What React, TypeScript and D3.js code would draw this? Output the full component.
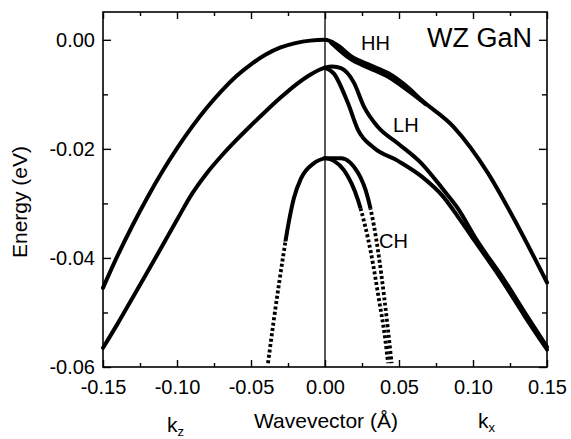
import React, { useEffect, useRef } from "react";
import * as d3 from "d3";

const xTicks = [-0.15, -0.1, -0.05, 0, 0.05, 0.1, 0.15];
const xMinorTicks = [-0.125, -0.075, -0.025, 0.025, 0.075, 0.125];
const yTicks = [0, -0.02, -0.04, -0.06];
const yMinorTicks = [-0.01, -0.03, -0.05];

// [k, E] pairs
const hh = [
  [-0.15, -0.0455], [-0.14, -0.0395], [-0.13, -0.034], [-0.12, -0.0289],
  [-0.11, -0.0242], [-0.1, -0.0199], [-0.09, -0.016], [-0.08, -0.0125],
  [-0.07, -0.0094], [-0.06, -0.0067], [-0.05, -0.0045], [-0.04, -0.0027],
  [-0.03, -0.0014], [-0.02, -0.0006], [-0.01, -0.00015], [0, 0],
  [0.008, -0.0009], [0.0176, -0.003], [0.03, -0.0046], [0.0426, -0.0061],
  [0.055, -0.0085], [0.065, -0.011], [0.087, -0.016], [0.11, -0.0244],
  [0.128, -0.033], [0.15, -0.0445],
];
const hhSplit = [
  [0.004, -0.0005], [0.0176, -0.0036], [0.03, -0.0052], [0.0426, -0.0068],
  [0.055, -0.0091], [0.068, -0.0118],
];
const lh = [
  [-0.15, -0.0565], [-0.14, -0.052], [-0.13, -0.0473], [-0.12, -0.0426],
  [-0.11, -0.0378], [-0.1, -0.033], [-0.09, -0.0283], [-0.08, -0.0245],
  [-0.07, -0.0213], [-0.06, -0.0184], [-0.05, -0.0157], [-0.04, -0.0131],
  [-0.03, -0.0106], [-0.02, -0.0083], [-0.01, -0.0064], [0, -0.0051],
  [0.005, -0.0049], [0.0108, -0.0052], [0.0196, -0.0079], [0.0264, -0.0123],
  [0.0358, -0.016], [0.0493, -0.019], [0.065, -0.0226], [0.08, -0.0275],
  [0.09, -0.031], [0.102, -0.0365], [0.121, -0.044], [0.135, -0.05], [0.15, -0.0563],
];
const lhSplit = [
  [0, -0.0051], [0.006, -0.0062], [0.0155, -0.0116], [0.0223, -0.0165],
  [0.033, -0.0198], [0.0493, -0.0222], [0.065, -0.025], [0.08, -0.0288],
  [0.09, -0.0325], [0.102, -0.0372], [0.121, -0.0447], [0.135, -0.0507],
  [0.15, -0.0568],
];
const chLeft = [
  [-0.0385, -0.0593], [-0.0365, -0.0552], [-0.0345, -0.0512], [-0.031, -0.0446],
  [-0.0284, -0.0399], [-0.025, -0.0342], [-0.021, -0.029], [-0.0162, -0.0254],
  [-0.0074, -0.0226], [0, -0.0217],
];
const chOuter = [
  [0, -0.0217], [0.0108, -0.0217], [0.0223, -0.0244], [0.029, -0.029],
  [0.033, -0.034], [0.036, -0.039], [0.04, -0.0472], [0.0425, -0.053], [0.045, -0.0593],
];
const chInner = [
  [0, -0.0217], [0.006, -0.0222], [0.0128, -0.0239], [0.0223, -0.0294],
  [0.027, -0.034], [0.031, -0.039], [0.0365, -0.0477], [0.0405, -0.0545], [0.0426, -0.0593],
];
// energy below which the CH branches are drawn dotted
const chDotLeft = -0.037;
const chDotRight = -0.031;

const W = 571;
const H = 439;
const margin = { top: 12, right: 24, bottom: 72, left: 103 };
const font = "'Liberation Sans', Arial, sans-serif";

function App() {
  const ref = useRef<SVGGElement>(null);
  const width = W - margin.left - margin.right;
  const height = H - margin.top - margin.bottom;

  useEffect(() => {
    const g = d3.select(ref.current);
    g.selectAll("*").remove();

    const x = d3.scaleLinear().domain([-0.15, 0.15]).range([0, width]);
    const y = d3.scaleLinear().domain([-0.06, 0.0051]).range([height, 0]);
    const fmt = (d: any) => d3.format(".2f")(d).replace("−", "-");

    const styleAxis = (sel: any) => {
      sel.select(".domain").remove();
      sel.selectAll("line").attr("stroke", "#000").attr("stroke-width", 1.4);
      sel.selectAll("text").attr("font-family", font).attr("font-size", 20).attr("fill", "#000");
    };

    // major + minor ticks on all four sides, pointing inward
    g.append("g").attr("transform", `translate(0,${height})`)
      .call(d3.axisBottom(x).tickValues(xTicks).tickFormat(fmt).tickSize(-7).tickPadding(13))
      .call(styleAxis);
    g.append("g").attr("transform", `translate(0,${height})`)
      .call(d3.axisBottom(x).tickValues(xMinorTicks).tickFormat(() => "").tickSize(-4))
      .call(styleAxis);
    g.append("g")
      .call(d3.axisTop(x).tickValues(xTicks).tickFormat(() => "").tickSize(-7))
      .call(styleAxis);
    g.append("g")
      .call(d3.axisTop(x).tickValues(xMinorTicks).tickFormat(() => "").tickSize(-4))
      .call(styleAxis);
    g.append("g")
      .call(d3.axisLeft(y).tickValues(yTicks).tickFormat(fmt).tickSize(-8).tickPadding(8))
      .call(styleAxis);
    g.append("g")
      .call(d3.axisLeft(y).tickValues(yMinorTicks).tickFormat(() => "").tickSize(-5))
      .call(styleAxis);
    g.append("g").attr("transform", `translate(${width},0)`)
      .call(d3.axisRight(y).tickValues(yTicks).tickFormat(() => "").tickSize(-8))
      .call(styleAxis);
    g.append("g").attr("transform", `translate(${width},0)`)
      .call(d3.axisRight(y).tickValues(yMinorTicks).tickFormat(() => "").tickSize(-5))
      .call(styleAxis);

    g.append("rect")
      .attr("width", width).attr("height", height)
      .attr("fill", "none").attr("stroke", "#000").attr("stroke-width", 1.6);

    g.append("line")
      .attr("x1", x(0)).attr("x2", x(0)).attr("y1", 0).attr("y2", height)
      .attr("stroke", "#000").attr("stroke-width", 1.3);

    const line = d3.line<number[]>()
      .x((d) => x(d[0]))
      .y((d) => y(d[1]))
      .curve(d3.curveMonotoneX);

    [hh, hhSplit, lh, lhSplit].forEach((s) => {
      g.append("path").attr("d", line(s as any)).attr("fill", "none")
        .attr("stroke", "#000").attr("stroke-width", 4).attr("stroke-linecap", "round");
    });

    // CH: solid near the top, dotted below a cut energy
    const defs = g.append("defs");
    const clips = [
      { id: "chTopL", x0: -0.15, x1: 0, e: chDotLeft, top: true },
      { id: "chBotL", x0: -0.15, x1: 0, e: chDotLeft, top: false },
      { id: "chTopR", x0: 0, x1: 0.15, e: chDotRight, top: true },
      { id: "chBotR", x0: 0, x1: 0.15, e: chDotRight, top: false },
    ];
    clips.forEach((c) => {
      defs.append("clipPath").attr("id", c.id).append("rect")
        .attr("x", x(c.x0) - (c.x0 === 0 ? 2 : 0)).attr("width", x(c.x1) - x(c.x0) + 2)
        .attr("y", c.top ? -10 : y(c.e))
        .attr("height", c.top ? y(c.e) + 10 : height - y(c.e) + 10);
    });
    const ch = [
      { d: chLeft, side: "L" },
      { d: chOuter, side: "R" },
      { d: chInner, side: "R" },
    ];
    ch.forEach((c) => {
      g.append("path").attr("d", line(c.d as any)).attr("fill", "none")
        .attr("clip-path", `url(#chTop${c.side})`)
        .attr("stroke", "#000").attr("stroke-width", 4).attr("stroke-linecap", "round");
      g.append("path").attr("d", line(c.d as any)).attr("fill", "none")
        .attr("clip-path", `url(#chBot${c.side})`)
        .attr("stroke", "#000").attr("stroke-width", 3.8).attr("stroke-dasharray", "3,2.4");
    });

    const label = (t: string, k: number, e: number, size: number) =>
      g.append("text").attr("x", x(k)).attr("y", y(e)).text(t)
        .attr("font-family", font).attr("font-size", size).attr("fill", "#000");
    label("HH", 0.0243, -0.0018, 20);
    label("LH", 0.046, -0.0169, 20);
    label("CH", 0.0365, -0.0382, 20);
    label("WZ GaN", 0.069, -0.0013, 27);
  }, [width, height]);

  return (
    <svg width={W} height={H} style={{ position: "absolute", left: 0, top: 0, background: "#fff" }}>
      <g ref={ref} transform={`translate(${margin.left},${margin.top})`}></g>
      <text x={27} y={202} transform="rotate(-90 27 202)" textAnchor="middle"
        fontFamily={font} fontSize={21}>Energy (eV)</text>
      <text x={326} y={428} textAnchor="middle" fontFamily={font} fontSize={21}>Wavevector (Å)</text>
      <text x={167} y={432} fontFamily={font} fontSize={21}>
        k<tspan fontSize={13} dy={4}>z</tspan>
      </text>
      <text x={478} y={428} fontFamily={font} fontSize={21}>
        k<tspan fontSize={13} dy={4}>x</tspan>
      </text>
    </svg>
  );
}

export default App;
